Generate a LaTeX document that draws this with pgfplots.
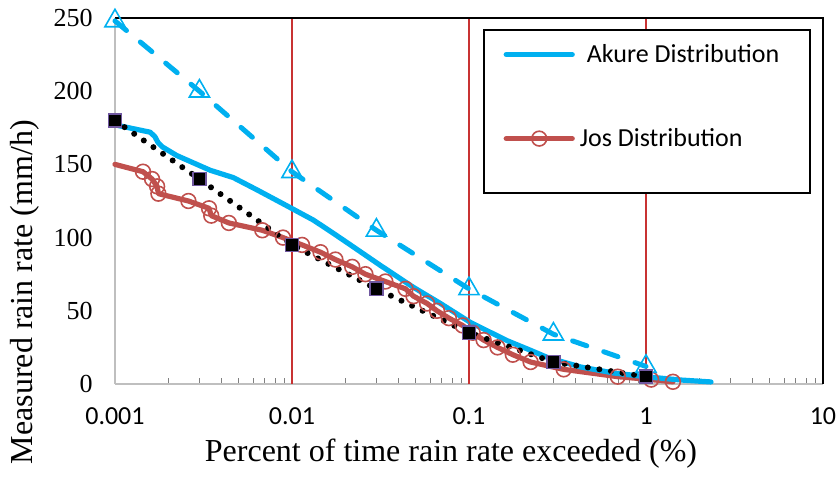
\documentclass[border=0pt]{standalone}
\usepackage{fontspec}
\setmainfont{Liberation Serif}
\newfontfamily\calibri{Carlito}
\usepackage{pgfplots}
\pgfplotsset{compat=1.18}

\definecolor{akure}{RGB}{0,176,240}
\definecolor{jos}{RGB}{192,80,77}
\definecolor{sqedge}{RGB}{112,88,160}
\definecolor{gridred}{RGB}{200,50,50}
\definecolor{axisgray}{RGB}{191,191,191}

\begin{document}
\begin{tikzpicture}
\begin{axis}[
  scale only axis, width=354pt, height=183pt,
  xmode=log, xmin=0.001, xmax=10, ymin=0, ymax=250,
  xtick={0.001,0.01,0.1,1,10},
  xticklabels={0.001,0.01,0.1,1,10},
  minor xtick={},
  extra x ticks={0.01,0.1,1}, extra x tick labels={},
  extra x tick style={xmajorgrids=true, major x grid style={gridred, line width=0.55pt}},
  ytick={0,50,100,150,200,250},
  yticklabels={0,50,100,150,200,250},
  major tick length=0pt,
  axis x line*=bottom, axis y line*=left,
  axis line style={axisgray, line width=1pt, -},
  xticklabel style={font=\calibri\fontsize{13pt}{15pt}\selectfont, yshift=-8.2pt},
  yticklabel style={font=\fontsize{13pt}{15pt}\selectfont, xshift=-7.7pt},
  xlabel={Percent of time rain rate exceeded (\%)},
  ylabel={Measured rain rate (mm/h)},
  xlabel style={font=\fontsize{16pt}{18pt}\selectfont, at={(axis description cs:0.4746,-0.1913)}, anchor=center},
  ylabel style={font=\fontsize{16pt}{18pt}\selectfont, at={(axis description cs:-0.1271,0.251)}, anchor=center, rotate=0},
  clip=false,
  legend style={draw=none, fill=none, at={(rel axis cs:0.5484,0.9409)}, anchor=north west,
    font=\calibri\fontsize{13pt}{15pt}\selectfont, row sep=27.5pt, inner sep=0pt},
  legend cell align=left,
  legend image code/.code={\draw[#1, mark repeat=2, mark phase=2] plot coordinates {(0pt,0pt) (16.5pt,0pt) (33pt,0pt)};},
]
% plot-area frame: black top and right edges
\draw[black, line width=0.6pt] (rel axis cs:0,1) -- (rel axis cs:1,1) -- (rel axis cs:1,0);

% legend entries
\addlegendimage{akure, line width=2.6pt, line cap=round}
\addlegendentry{\hspace{4pt}Akure Distribution}
\addlegendimage{jos, line width=2.6pt, line cap=round, mark=o, mark options={jos, line width=0.8pt, mark size=3.7pt}}
\addlegendentry{\hspace{0.5pt}Jos Distribution}

% Jos measured distribution
\addplot[forget plot, jos, line width=2.6pt, line join=round, line cap=round] coordinates {
 (0.001,150) (0.00144,145) (0.00162,140) (0.00173,135) (0.00176,130) (0.0026,125)
 (0.0034,120) (0.0035,115) (0.0044,110) (0.0068,105) (0.0089,100) (0.0114,95)
 (0.0145,90) (0.0176,85) (0.0219,80) (0.026,75) (0.0337,70) (0.0438,65)
 (0.0486,60) (0.058,55) (0.066,50) (0.077,45) (0.092,40) (0.105,35)
 (0.121,30) (0.145,25) (0.177,20) (0.223,15) (0.343,10) (0.693,5)
 (1.07,3) (1.42,1.5)
};
\addplot[forget plot, only marks, mark=o, mark options={jos, line width=0.8pt}, mark size=3.7pt] coordinates {
 (0.00144,145) (0.00162,140) (0.00173,135) (0.00176,130) (0.0026,125)
 (0.0034,120) (0.0035,115) (0.0044,110) (0.0068,105) (0.0089,100) (0.0114,95)
 (0.0145,90) (0.0176,85) (0.0219,80) (0.026,75) (0.0337,70) (0.0438,65)
 (0.0486,60) (0.058,55) (0.066,50) (0.077,45) (0.092,40) (0.105,35)
 (0.121,30) (0.145,25) (0.177,20) (0.223,15) (0.343,10) (0.693,5)
 (1.07,3) (1.42,1.5)
};

% Akure measured distribution
\addplot[forget plot, akure, line width=2.6pt, line join=round, line cap=round] coordinates {
 (0.001,177) (0.00158,172) (0.00168,169) (0.00175,165) (0.00185,162) (0.00224,156)
 (0.00255,153) (0.00345,146) (0.00466,141) (0.00637,132.5) (0.0094,121.6)
 (0.0132,112) (0.0171,103) (0.0214,95) (0.0316,81) (0.0486,66) (0.069,55)
 (0.102,42) (0.165,29.5) (0.223,23) (0.279,18) (0.428,11.6) (0.658,7.5)
 (1.026,4.8) (1.58,2.7) (2.33,1.4)
};

% Akure ITU-R prediction
\addplot[forget plot, akure, line width=2.5pt, line cap=round, dash pattern=on 7.5pt off 9pt,
  mark=triangle, mark options={solid, draw=akure, fill=white, line width=0.8pt}, mark size=5.8pt] coordinates {
 (0.001,248) (0.003,200) (0.01,145) (0.03,105) (0.1,65) (0.3,34) (1,12)
};

% Jos ITU-R prediction
\addplot[forget plot, black, line width=3pt, line cap=round, dash pattern=on 0pt off 5.85pt,
  mark=square*, mark options={solid, fill=black, draw=sqedge, line width=0.8pt}, mark size=3.3pt] coordinates {
 (0.001,180) (0.003,140) (0.01,95) (0.03,65) (0.1,35) (0.3,15) (1,5)
};

% legend frame
\draw[black, line width=1pt, fill=white] (rel axis cs:0.5212,0.5219) rectangle (rel axis cs:0.9816,0.9672);

\coordinate (bbll) at (rel axis cs:-0.1624,-0.2568);
\coordinate (bbur) at (rel axis cs:1.0198,1.0492);
\end{axis}
\pgfresetboundingbox
\path[use as bounding box] (bbll) rectangle (bbur);
\end{tikzpicture}
\end{document}
